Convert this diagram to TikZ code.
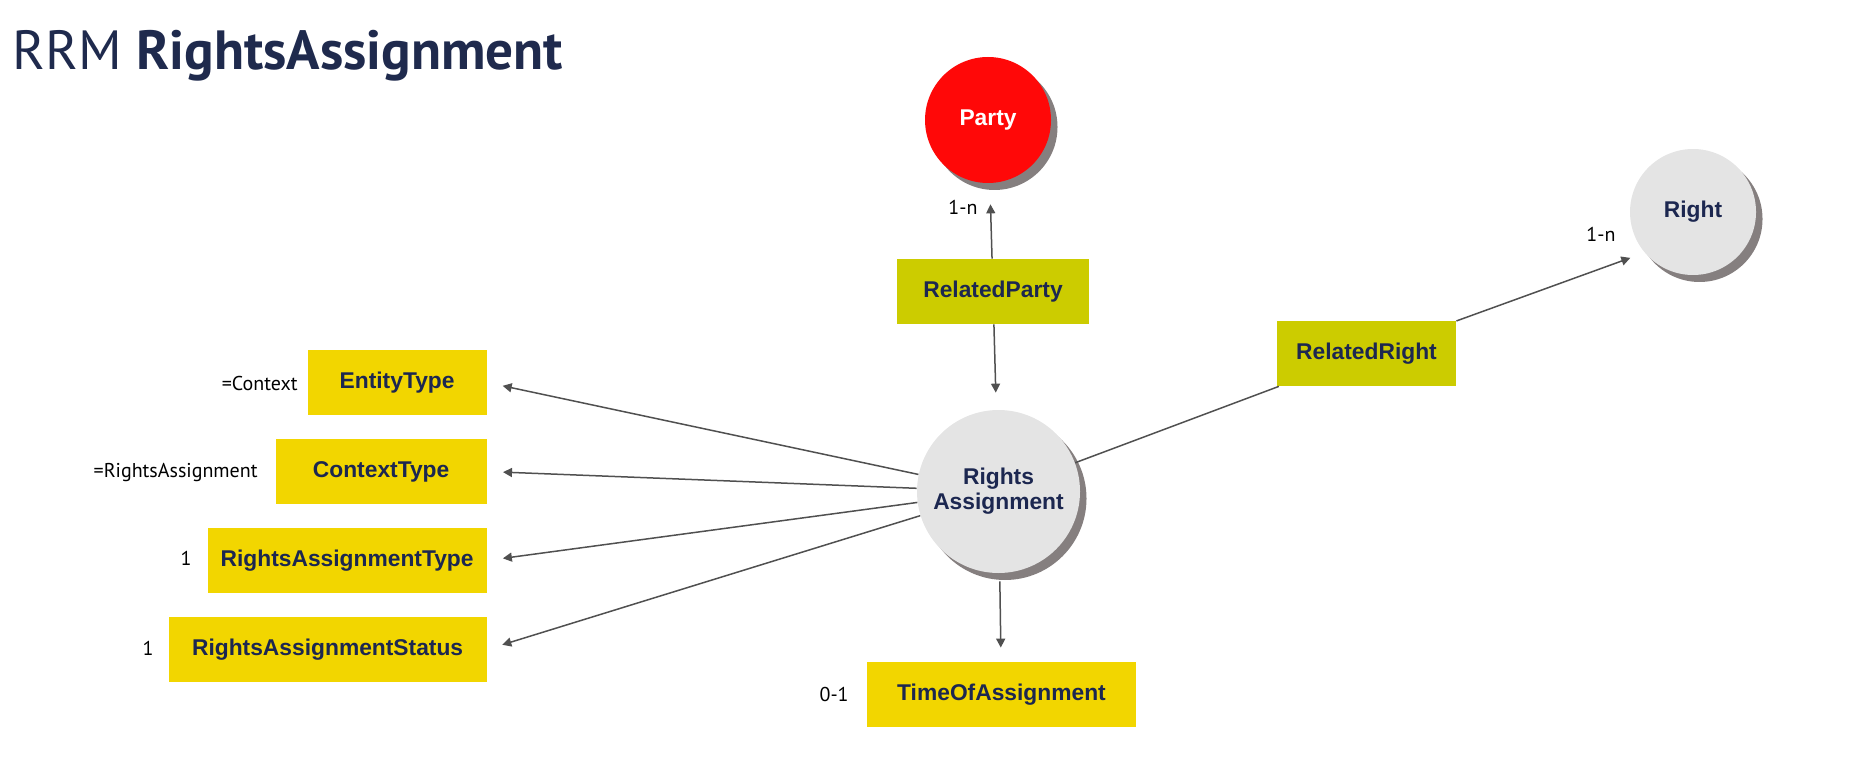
\documentclass[tikz,border=0pt]{standalone}
\usepackage{fontspec}
\setmainfont{PT Sans}
\newfontfamily\labelfont{Liberation Sans}
\usetikzlibrary{arrows.meta,shadows}
\definecolor{titlenavy}{HTML}{1F2A4D}
\definecolor{textnavy}{HTML}{1C2750}
\definecolor{attryellow}{HTML}{F2D600}
\definecolor{relolive}{HTML}{CCCC00}
\definecolor{partyred}{HTML}{FF0808}
\definecolor{entgray}{HTML}{E4E4E4}
\definecolor{shadowgray}{HTML}{857F7F}
\definecolor{linkgray}{HTML}{505050}
\tikzset{
  boxtext/.style={font=\labelfont\bfseries\fontsize{11.4}{12.5}\selectfont, text=textnavy},
  ent/.style={circle, fill=entgray, minimum size=#1, inner sep=0pt, boxtext, align=center,
    drop shadow={shadow xshift=3.25pt, shadow yshift=-3.5pt, opacity=1, fill=shadowgray}},
  attr/.style={fill=attryellow, minimum height=32.5pt, minimum width=#1, inner sep=0pt, boxtext},
  rel/.style={fill=relolive, minimum height=32.5pt, minimum width=#1, inner sep=0pt, boxtext},
  card/.style={inner sep=0pt, font=\fontsize{10}{12}\selectfont, text=black},
  link/.style={draw=linkgray, line width=0.75pt},
  arr/.style={link, -{Triangle[length=4.5pt,width=4.5pt]}}
}
\begin{document}
\begin{tikzpicture}[x=0.5pt,y=-0.5pt]
\useasboundingbox (0,0) rectangle (1850,780);

\node[anchor=base west, inner sep=0pt, text=titlenavy, font=\fontsize{27.6}{30}\selectfont] (title) at (12,70) {RRM \textbf{RightsAssignment}};

\node[ent=63pt, fill=partyred, text=white] (p) at (988,120) {Party};
\node[ent=63pt] (r) at (1693,212) {Right};
\node[ent=81.5pt] (ra) at (998.5,491.5) {Rights\\Assignment};

\node[rel=96pt] (rp) at (993,291.5) {RelatedParty};
\node[rel=89.5pt] (rr) at (1366.5,353.5) {RelatedRight};

\node[attr=89.5pt, anchor=east] (et) at (487,382.5) {EntityType};
\node[attr=105.5pt, anchor=east] (ct) at (487,471.5) {ContextType};
\node[attr=139.5pt, anchor=east] (rat) at (487,560.5) {RightsAssignmentType};
\node[attr=159pt, anchor=east] (ras) at (487,649.5) {RightsAssignmentStatus};
\node[attr=134.5pt] (toa) at (1001.5,694.5) {TimeOfAssignment};

\node[card, anchor=base east] (c1) at (298,390) {=Context};
\node[card, anchor=base east] (c2) at (258,477) {=RightsAssignment};
\node[card, anchor=base east] (c3) at (192,565) {1};
\node[card, anchor=base east] (c4) at (154,655) {1};
\node[card, anchor=base east] (c5) at (849,701) {0-1};
\node[card, anchor=base west] (c6) at (948,215) {1-n};
\node[card, anchor=base west] (c7) at (1586,242) {1-n};

\path[arr, shorten >=10.5pt] (rp) -- (p);
\path[arr, shorten >=8.5pt] (rp) -- (ra);
\path[link] (ra) -- (rr);
\path[arr, shorten >=7.5pt] (rr) -- (r.220);

\path[arr, shorten >=8pt] (ra) -- (et.east);
\path[arr, shorten >=8pt] (ra) -- (ct.east);
\path[arr, shorten >=8pt] (ra) -- (rat.east);
\path[arr, shorten >=8pt] (ra) -- (ras.east);
\path[arr, shorten <=4pt, shorten >=7pt] (ra) -- (toa);
\end{tikzpicture}
\end{document}
